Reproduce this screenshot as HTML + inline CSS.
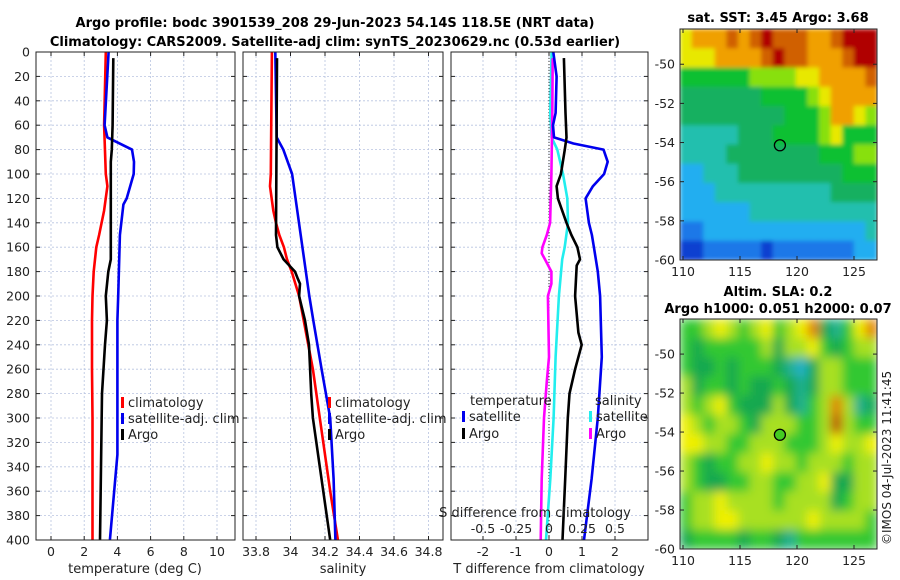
<!DOCTYPE html>
<html><head><meta charset="utf-8"><style>
html,body{margin:0;padding:0;background:#fff;}
svg{display:block;font-family:"DejaVu Sans","Liberation Sans",sans-serif;}
</style></head><body>
<svg id="fig" width="900" height="580" viewBox="0 0 900 580" xmlns="http://www.w3.org/2000/svg">
<defs>
<filter id="blurS" x="0" y="0" width="1" height="1"><feGaussianBlur stdDeviation="2" edgeMode="duplicate"/></filter>
<filter id="blurL" x="0" y="0" width="1" height="1"><feGaussianBlur stdDeviation="5" edgeMode="duplicate"/></filter>
<clipPath id="clipTop"><rect x="680" y="29" width="197" height="231"/></clipPath>
<clipPath id="clipBot"><rect x="680" y="319" width="197" height="230"/></clipPath>
</defs>
<text x="335" y="27" text-anchor="middle" font-size="13" font-weight="bold">Argo profile: bodc 3901539_208 29-Jun-2023 54.14S 118.5E (NRT data)</text>
<text x="335" y="46" text-anchor="middle" font-size="13" font-weight="bold">Climatology: CARS2009. Satellite-adj clim: synTS_20230629.nc (0.53d earlier)</text>
<text x="778" y="22" text-anchor="middle" font-size="13" font-weight="bold">sat. SST: 3.45 Argo: 3.68</text>
<text x="778" y="296" text-anchor="middle" font-size="13" font-weight="bold">Altim. SLA: 0.2</text>
<text x="778" y="313" text-anchor="middle" font-size="13" font-weight="bold">Argo h1000: 0.051 h2000: 0.07</text>
<text transform="translate(891,545) rotate(-90)" font-size="12" fill="#222">©IMOS 04-Jul-2023 11:41:45</text>
<g id="g"></g>
</svg>
<script>
// ---- profile data ----
const depthClimT = [0,60,100,110,130,150,160,180,200,220,260,300,400];
const valClimT   = [3.3,3.2,3.3,3.4,3.2,2.9,2.73,2.57,2.5,2.47,2.47,2.5,2.5];
const depthSatT  = [0,60,70,80,90,100,120,125,150,200,220,330,400];
const valSatT    = [3.47,3.23,3.4,4.88,5.0,4.98,4.56,4.36,4.15,4.05,4.0,4.0,3.55];
const depthArgoT = [5,60,80,90,170,180,200,220,240,280,400];
const valArgoT   = [3.75,3.71,3.66,3.6,3.6,3.45,3.3,3.37,3.25,3.07,2.95];

const depthClimS = [0,100,110,130,140,150,160,170,180,200,260,300,360,400];
const valClimS   = [33.892,33.886,33.881,33.90,33.916,33.935,33.962,33.98,34.007,34.05,34.13,34.17,34.23,34.275];
const depthSatS  = [0,70,80,100,150,200,220,260,300,350,400];
const valSatS    = [33.912,33.92,33.958,34.009,34.059,34.109,34.132,34.18,34.23,34.25,34.26];
const depthArgoS = [5,150,160,170,180,185,190,200,220,240,280,300,340,400];
const valArgoS   = [33.922,33.916,33.924,33.96,34.026,34.04,34.055,34.05,34.084,34.107,34.12,34.13,34.17,34.23];

const depthDSatT = [0,20,50,60,70,75,80,90,100,110,120,140,150,160,180,200,250,300,350,400];
const valDSatT   = [0.13,0.23,0.2,0.12,0.15,0.74,1.65,1.78,1.67,1.33,1.11,1.21,1.3,1.36,1.48,1.55,1.6,1.48,1.29,1.06];
const depthDArgoT= [5,50,70,80,100,110,120,140,150,160,170,175,200,230,240,260,280,300,350,400];
const valDArgoT  = [0.45,0.5,0.53,0.48,0.36,0.23,0.27,0.53,0.68,0.86,0.94,0.84,0.79,0.89,0.99,0.79,0.62,0.57,0.49,0.41];
const depthDSatS = [0,50,70,80,100,120,140,160,170,200,250,300,350,400];
const valDSatS   = [0.02,0.01,0.02,0.063,0.106,0.139,0.144,0.119,0.1,0.075,0.05,0.035,0.01,-0.023];
const depthDArgoS= [5,50,100,140,150,160,165,170,180,190,200,250,270,300,350,400];
const valDArgoS  = [0.028,0.025,0.018,0.008,-0.017,-0.05,-0.055,-0.03,0.018,0.018,-0.008,0,-0.017,-0.038,-0.055,-0.063];

const depthTicks = [0,20,40,60,80,100,120,140,160,180,200,220,240,260,280,300,320,340,360,380,400];
const tTicks = [0,2,4,6,8,10];
const sTicks = ["33.8","34","34.2","34.4","34.6","34.8"];
const dTTicks = [-2,-1,0,1,2];
const dSTickLabels = ["-0.5","-0.25","0","0.25","0.5"];
const dSTickValues = [-0.5,-0.25,0,0.25,0.5];

// ---- map data ----
const sstGrid = [
[7,8,8,8,9,8,9,10,9,9,9,8,8,9,10,10,10],
[7,7,7,8,8,8,8,9,10,9,9,8,8,8,9,10,10],
[5,5,5,5,5,5,6,6,6,6,7,7,8,8,8,8,9],
[4,4,4,4,4,4,4,5,5,5,5,6,7,8,8,8,8],
[4,4,4,4,4,4,4,4,4,5,5,5,6,8,8,7,6],
[3,3,3,3,3,4,4,4,5,5,5,5,6,7,5,5,5],
[3,3,3,3,4,4,4,4,4,4,4,4,5,5,5,6,6],
[2,2,3,3,3,4,4,4,4,4,4,4,4,4,5,5,5],
[2,2,2,3,3,3,3,3,3,3,3,3,3,4,4,4,4],
[2,2,2,2,2,2,3,3,3,3,3,3,3,3,3,3,3],
[1,1,2,2,2,2,2,2,2,2,2,2,2,2,2,2,3],
[0,0,1,1,1,1,1,0,1,1,1,1,1,1,1,2,2]];
const slaGrid = [
[3,3,4,5,4,3,4,5,3,4,5,6,2,1,3,5,6],
[3,2,3,3,3,3,3,4,2,4,4,5,3,2,3,4,4],
[3,2,2,3,2,3,3,3,2,1,0,2,4,4,3,3,3],
[4,2,3,3,2,3,2,2,3,2,1,2,4,4,3,3,3],
[4,3,4,5,3,2,2,2,4,2,1,3,4,6,4,1,2],
[5,4,3,4,4,3,2,4,4,4,3,3,4,7,4,3,3],
[5,5,4,4,3,3,4,4,4,3,3,3,4,5,4,4,5],
[4,3,2,3,3,4,4,5,4,4,3,4,4,4,3,4,4],
[4,3,2,2,3,3,4,4,3,3,4,4,5,2,2,4,4],
[3,4,4,5,4,4,4,4,3,4,4,4,4,2,3,4,4],
[3,4,4,5,5,4,4,4,4,4,4,5,4,4,4,4,3],
[2,3,3,3,3,2,3,3,2,1,3,3,3,3,3,3,3]];
const lonTicks = [110,115,120,125];
const latTicks = [-50,-52,-54,-56,-58,-60];
const argoLon = 118.5, argoLat = -54.14;

const sstColors = ["#0a40d0","#1a78e8","#22aef0","#20bfae","#18b060","#10c030","#88e010","#e8e800","#f0a000","#d06000","#b00000"];
const slaColors = ["#20b0c8","#20b090","#18a850","#30c830","#a8e020","#f0f000","#e08000","#c05000"];

const NS="http://www.w3.org/2000/svg";
const G=document.getElementById('g');
function el(tag,attrs,parent){const e=document.createElementNS(NS,tag);for(const k in attrs)e.setAttribute(k,attrs[k]);(parent||G).appendChild(e);return e;}
function txt(x,y,s,size,anchor,parent){const e=el('text',{x:x,y:y,'font-size':size,'text-anchor':anchor||'middle',fill:'#222'},parent);e.textContent=s;return e;}

const Y0=52, Y1=540;
const yD = d => Y0 + (d/400)*(Y1-Y0);
const panels = [
 {name:'temperature-panel', x0:36, x1:235, fx:v=>51+16.6*v},
 {name:'salinity-panel', x0:243, x1:443, fx:v=>256+(v-33.8)*172.5},
 {name:'difference-panel', x0:451, x1:648, fx:v=>549+33*v}
];
panels.forEach((p,i)=>{
  const g=el('g',{});
  
  
  depthTicks.forEach(d=>{
    const l=el('line',{x1:p.x0,x2:p.x1,y1:yD(d),y2:yD(d),stroke:'#b8c4e0','stroke-width':0.8,'stroke-dasharray':'2,2'},g);
    
    
  });
  p.g=g;
});
function vgrid(p,xs,labels,ylab){
  xs.forEach((x,k)=>{
    const l=el('line',{x1:x,x2:x,y1:Y0,y2:Y1,stroke:'#b8c4e0','stroke-width':0.8,'stroke-dasharray':'2,2'},p.g);
    
    
    el('line',{x1:x,x2:x,y1:Y1,y2:Y1-4,stroke:'#222'},p.g);
    el('line',{x1:x,x2:x,y1:Y0,y2:Y0+4,stroke:'#222'},p.g);
    const t=txt(x,ylab,labels[k],12.5,'middle',p.g);
    
    
  });
}
vgrid(panels[0],tTicks.map(panels[0].fx),tTicks.map(String),556);
vgrid(panels[1],sTicks.map(s=>panels[1].fx(parseFloat(s))),sTicks,556);
vgrid(panels[2],dTTicks.map(panels[2].fx),dTTicks.map(String),556);
el('line',{x1:549,x2:549,y1:Y0,y2:Y1,stroke:'#333','stroke-width':1,'stroke-dasharray':'1,2'},panels[2].g);
depthTicks.forEach(d=>{
  panels.forEach(p=>{
    el('line',{x1:p.x0,x2:p.x0+4,y1:yD(d),y2:yD(d),stroke:'#222'},p.g);
    el('line',{x1:p.x1,x2:p.x1-4,y1:yD(d),y2:yD(d),stroke:'#222'},p.g);
  });
  const t=txt(30,yD(d)+4.5,String(d),12.5,'end');
  
  
});
dSTickValues.forEach((v,k)=>{
  const t=txt(549+132*v,533,dSTickLabels[k],12.5,'middle');
  
  
});
function series(p,depths,vals,color,name,fx){
  const pts=depths.map((d,k)=>(fx||p.fx)(vals[k]).toFixed(1)+','+yD(d).toFixed(1)).join(' ');
  const pl=el('polyline',{points:pts,fill:'none',stroke:color,'stroke-width':2.6,'stroke-linejoin':'round'},p.g);
  
  
}
series(panels[0],depthClimT,valClimT,'#ff0000','temp-climatology-line');
series(panels[0],depthSatT,valSatT,'#0000ee','temp-satellite-adj-line');
series(panels[0],depthArgoT,valArgoT,'#000','temp-argo-line');
series(panels[1],depthClimS,valClimS,'#ff0000','sal-climatology-line');
series(panels[1],depthSatS,valSatS,'#0000ee','sal-satellite-adj-line');
series(panels[1],depthArgoS,valArgoS,'#000','sal-argo-line');
const fS=v=>549+132*v;
series(panels[2],depthDSatS,valDSatS,'#22eeee','sal-diff-satellite-line',fS);
series(panels[2],depthDArgoS,valDArgoS,'#ff00ff','sal-diff-argo-line',fS);
series(panels[2],depthDSatT,valDSatT,'#0000ee','temp-diff-satellite-line');
series(panels[2],depthDArgoT,valDArgoT,'#000','temp-diff-argo-line');
panels.forEach(p=>{
  const r=el('rect',{x:p.x0,y:Y0,width:p.x1-p.x0,height:Y1-Y0,fill:'none',stroke:'#222','stroke-width':1},p.g);
  
  
});
[[135,'temperature (deg C)'],[343,'salinity'],[549,'T difference from climatology']].forEach(a=>{
  const t=txt(a[0],573,a[1],13,'middle');
  
  
});
{const t=txt(535,517,'S difference from climatology',13,'middle');

}
function legend(x,y,color,label,name){
  const g=el('g',{});
  
  
  el('rect',{x:x,y:y-10,width:3,height:11,fill:color},g);
  txt(x+7,y,label,13,'start',g);
}
legend(121,407,'#ff0000','climatology','legend-climatology');
legend(121,423,'#0000ee','satellite-adj. clim','legend-satellite-adj');
legend(121,439,'#000','Argo','legend-argo');
legend(328,407,'#ff0000','climatology','legend-climatology-sal');
legend(328,423,'#0000ee','satellite-adj. clim','legend-satellite-adj-sal');
legend(328,439,'#000','Argo','legend-argo-sal');
{const t=txt(470,405,'temperature',13,'start');}
{const t=txt(595,405,'salinity',13,'start');}
legend(462,421,'#0000ee','satellite','legend-temp-satellite');
legend(462,438,'#000','Argo','legend-temp-argo');
legend(589,421,'#22eeee','satellite','legend-sal-satellite');
legend(589,438,'#ff00ff','Argo','legend-sal-argo');

// ---- maps ----
function drawMap(grid,colors,top,bottom,name,filt,clip){
  const x0=680,x1=877;
  const g=el('g',{});
  
  
  const cg=el('g',{'clip-path':'url(#'+clip+')'},g);
  const hg=el('g',{filter:'url(#'+filt+')'},cg);
  const rows=grid.length, cols=grid[0].length;
  const cw=(x1-x0)/cols, ch=(bottom-top)/rows;
  grid.forEach((row,r)=>row.forEach((v,c)=>{
    const cell=el('rect',{x:(x0+c*cw).toFixed(2),y:(top+r*ch).toFixed(2),width:(cw+0.6).toFixed(2),height:(ch+0.6).toFixed(2),fill:colors[v]},hg);
    
    
  }));
  const fy=lat=>top+(bottom-top)*(-48.2-lat)/(11.8);
  const fx=lon=>683+(lon-110)*11.4;
  el('rect',{x:x0,y:top,width:x1-x0,height:bottom-top,fill:'none',stroke:'#222'},g);
  lonTicks.forEach(l=>{
    el('line',{x1:fx(l),x2:fx(l),y1:bottom,y2:bottom-4,stroke:'#222'},g);
    el('line',{x1:fx(l),x2:fx(l),y1:top,y2:top+4,stroke:'#222'},g);
    const t=txt(fx(l),bottom+16,String(l),12.5,'middle',g);
    
    
  });
  latTicks.forEach(l=>{
    el('line',{x1:x0,x2:x0+4,y1:fy(l),y2:fy(l),stroke:'#222'},g);
    el('line',{x1:x1,x2:x1-4,y1:fy(l),y2:fy(l),stroke:'#222'},g);
    const t=txt(675,fy(l)+4.5,String(l),12.5,'end',g);
    
    
  });
  const m=el('circle',{cx:fx(argoLon),cy:fy(argoLat),r:5.5,fill:name==='sla-map'?'#44cc22':'none',stroke:'#000','stroke-width':1.3},g);
  
  
}
drawMap(sstGrid,sstColors,29,260,'sst-map','blurS','clipTop');
drawMap(slaGrid,slaColors,319,549,'sla-map','blurL','clipBot');
</script>
</body></html>
